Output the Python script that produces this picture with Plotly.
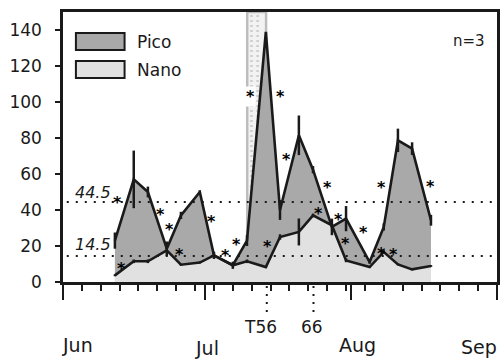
import plotly.graph_objects as go

# ---- data ----
days = [11, 15, 18, 22, 25, 29, 32, 36, 39, 43, 46, 50, 53, 57, 60, 65, 68, 71, 74, 78]
pico = [23, 57, 50, 18.5, 37, 50, 14.8, 9.3, 23, 139, 40, 81.5, 62.4, 30.6, 35.2, 11.1, 30.6, 78.7, 74.1, 34.3]
pico_err = [4.5, 16, 3, 4, 2, 1, 2, 2, 3, 0, 5.5, 11, 2, 4.6, 7, 1, 2, 6.5, 3.5, 3]
nano = [3.7, 11.5, 11.5, 17.6, 9.6, 10.8, 14.8, 9.3, 11.5, 8.3, 25, 27.8, 37, 31.5, 12, 8.3, 16.7, 9.8, 7, 8.9]
nano_err = [0.5, 1, 1, 1, 0.5, 0.5, 1, 0.5, 1, 0.5, 1.5, 7.5, 1, 1, 1, 0.5, 1, 0.5, 0.5, 0.5]

# significance asterisks (day, value)
sig_x = [11.6, 12.3, 20.7, 22.6, 24.7, 31.5, 34.4, 36.7, 39.7, 46.0, 47.4, 43.3, 56.0, 54.1, 58.3, 59.8, 63.6, 67.6, 77.8, 67.6, 70.0]
sig_y = [46.4, 9.7, 39.5, 31.6, 17.3, 35.8, 16.9, 22.9, 105.1, 105.1, 70.5, 21.7, 55.0, 40.3, 37.2, 23.4, 29.7, 54.9, 55.2, 18.3, 17.5]
sig_bg = [8]  # index of asterisk drawn over the shaded band

thresholds = [44.5, 14.5]
threshold_labels = ["44.5", "14.5"]
month_starts = [0, 30, 61, 92]           # days since Jun 1
month_names = ["Jun", "Jul", "Aug", "Sep"]
month_label_x = [3.1, 30.5, 62.4, 88.1]
events = [43.2, 53.1]
event_labels = ["T56", "66"]
band = [39.05, 43.05]

FONT = "DejaVu Sans"
INK = "#1a1a1a"
DARK = "#a9a9a9"
LIGHT = "#e1e1e2"

W, H = 502, 360
ML, MR, MT, MB = 63, 2, 12, 78
PW, PH = W - ML - MR, H - MT - MB

def py(p):  # pixel y -> paper y
    return (H - MB - p) / PH

def pxx(p):  # pixel x -> paper x
    return (p - ML) / PW

fig = go.Figure()
fig.add_trace(go.Scatter(x=days, y=pico, mode="lines", fill="tozeroy", fillcolor=DARK,
                         line=dict(width=0, color=DARK), hoverinfo="skip", showlegend=False))
fig.add_trace(go.Scatter(x=days, y=nano, mode="lines", fill="tozeroy", fillcolor=LIGHT,
                         line=dict(width=0, color=LIGHT), hoverinfo="skip", showlegend=False))
fig.add_trace(go.Scatter(x=days, y=pico, mode="lines", name="Pico",
                         line=dict(width=2.6, color=INK),
                         error_y=dict(type="data", array=pico_err, thickness=2.5, width=0, color=INK),
                         showlegend=False))
fig.add_trace(go.Scatter(x=days, y=nano, mode="lines", name="Nano",
                         line=dict(width=2.6, color=INK),
                         error_y=dict(type="data", array=nano_err, thickness=2.5, width=0, color=INK),
                         showlegend=False))

shapes = []
# shaded sampling band
shapes.append(dict(type="rect", xref="x", yref="paper", x0=band[0], x1=band[1], y0=0, y1=1,
                   fillcolor="#f2f2f2", line=dict(color="#bdbdbd", width=2.5), layer="below"))
for bx in [band[0] + 0.9, band[0] + 2.2]:
    shapes.append(dict(type="line", xref="x", yref="paper", x0=bx, x1=bx, y0=0, y1=1,
                       line=dict(color="#cdcdcd", width=2.5, dash="2px,3px"), layer="below"))
# threshold dotted lines
for t in thresholds:
    shapes.append(dict(type="line", xref="x", yref="y", x0=0.8, x1=92, y0=t, y1=t,
                       line=dict(color=INK, width=2, dash="2px,7px"), layer="above"))
# event dotted markers below axis
for e in events:
    shapes.append(dict(type="line", xref="x", yref="paper", x0=e, x1=e, y0=py(286), y1=py(318),
                       line=dict(color=INK, width=2, dash="2px,6px")))
# legend boxes
for (y0, y1, c) in [(33, 50, DARK), (61, 78, LIGHT)]:
    shapes.append(dict(type="rect", xref="paper", yref="paper", x0=pxx(76), x1=pxx(125),
                       y0=py(y1), y1=py(y0), fillcolor=c, line=dict(color=INK, width=2)))

ann = []
for i, (sx, sy) in enumerate(zip(sig_x, sig_y)):
    ann.append(dict(x=sx, y=sy, xref="x", yref="y", text="<b>*</b>", showarrow=False,
                    font=dict(family=FONT, size=16, color="#000000"), yshift=-4,
                    bgcolor="white" if i in sig_bg else None, borderpad=0))
for t, lab, p in zip(thresholds, threshold_labels, [192.5, 244]):
    ann.append(dict(x=pxx(113), y=py(p), xref="paper", yref="paper", text=f"<i>{lab}</i>",
                    xanchor="right", yanchor="middle", showarrow=False,
                    font=dict(family=FONT, size=16, color=INK)))
for mx, mn, p in zip(month_label_x, month_names, [345, 348, 345, 347]):
    ann.append(dict(x=mx, y=py(p), xref="x", yref="paper", text=mn, showarrow=False,
                    xanchor="center", yanchor="middle", font=dict(family=FONT, size=19, color=INK)))
for ex, el, cx in zip(events, event_labels, [262, 314]):
    ann.append(dict(x=pxx(cx), y=py(327), xref="paper", yref="paper", text=el, showarrow=False,
                    xanchor="center", yanchor="middle", font=dict(family=FONT, size=17, color=INK)))
for name, p in [("Pico", 42), ("Nano", 70)]:
    ann.append(dict(x=pxx(136), y=py(p), xref="paper", yref="paper", text=name, showarrow=False,
                    xanchor="left", yanchor="middle", font=dict(family=FONT, size=17, color=INK)))
ann.append(dict(x=pxx(472), y=py(41), xref="paper", yref="paper", text="n=3", showarrow=False,
                xanchor="center", yanchor="middle", font=dict(family=FONT, size=15, color=INK)))

fig.update_layout(
    width=W, height=H, margin=dict(l=ML, r=MR, t=MT, b=MB, pad=0),
    paper_bgcolor="white", plot_bgcolor="white",
    shapes=shapes, annotations=ann, showlegend=False,
    xaxis=dict(range=[0, 92], showgrid=False, zeroline=False, showline=True, linewidth=2.5,
               linecolor=INK, mirror=True, ticks="outside", tickvals=month_starts,
               ticklen=15, tickwidth=2, tickcolor=INK, showticklabels=False,
               minor=dict(tick0=0, dtick=4, ticks="outside", ticklen=6, tickwidth=2, tickcolor=INK)),
    yaxis=dict(range=[0, 150], showgrid=False, zeroline=False, showline=True, linewidth=2.5,
               linecolor=INK, mirror=True, ticks="outside", tickvals=list(range(0, 141, 20)),
               ticklen=5, tickwidth=2, tickcolor=INK, ticklabelstandoff=10,
               tickfont=dict(family=FONT, size=17, color=INK)),
)

fig.write_html("out.html", config={"displayModeBar": False},
               post_script="document.body.style.margin='0px';document.body.style.overflow='hidden';")
